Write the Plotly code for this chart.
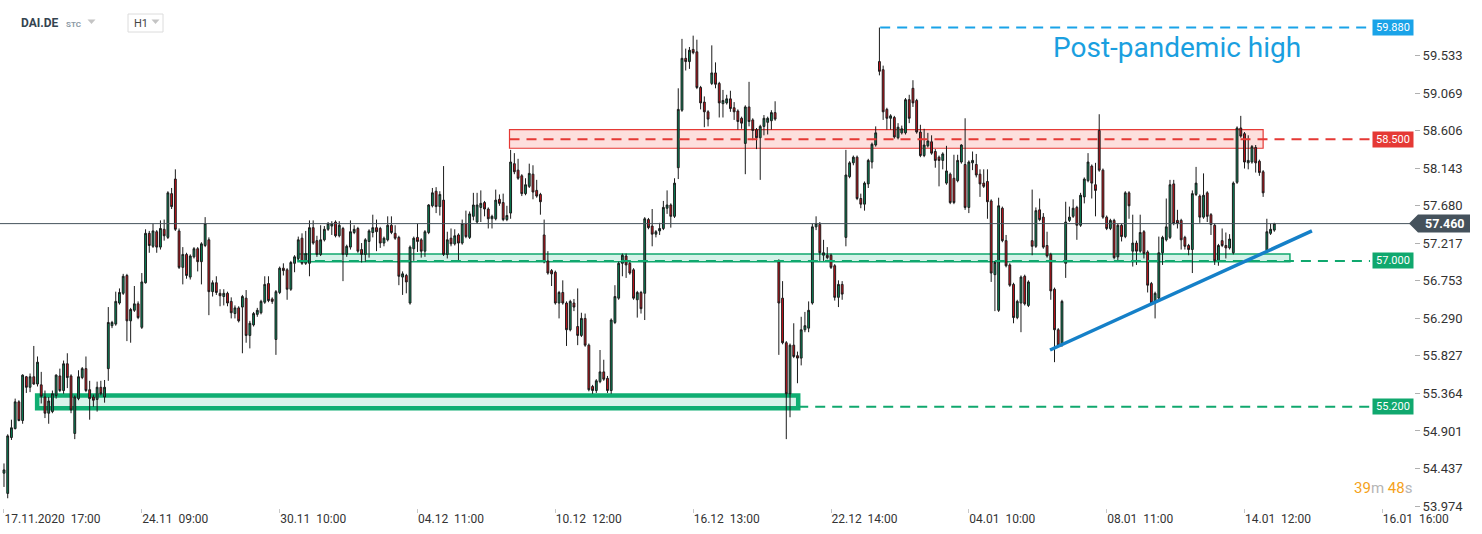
import plotly.graph_objects as go

# hourly candles, DAI.DE, 17.11.2020 17:00 -> 14.01.2021
OPEN = [
    54.38, 54.13, 54.82, 54.93, 55.26, 55.03, 55.57, 55.44, 55.57, 55.48,
    55.47, 55.32, 55.12, 55.14, 55.34, 55.58, 55.40, 55.73, 55.58, 54.87,
    55.30, 55.56, 55.67, 55.41, 55.32, 55.29, 55.44, 55.32, 55.67, 56.20,
    56.22, 56.48, 56.60, 56.82, 56.26, 56.39, 56.47, 56.18, 56.73, 57.34,
    57.18, 57.36, 57.17, 57.39, 57.29, 57.83, 58.01, 57.37, 56.92, 57.08,
    56.80, 57.05, 57.15, 56.99, 57.19, 57.26, 56.62, 56.73, 56.60, 56.56,
    56.60, 56.50, 56.35, 56.42, 56.43, 56.54, 56.08, 56.21, 56.34, 56.36,
    56.49, 56.72, 56.53, 56.03, 56.61, 56.91, 56.89, 56.65, 56.97, 57.03,
    57.28, 56.97, 56.97, 57.41, 57.25, 57.08, 57.26, 57.39, 57.43, 57.48,
    57.31, 57.40, 57.08, 57.17, 57.35, 57.40, 57.14, 57.08, 57.24, 57.35,
    57.41, 57.40, 57.22, 57.26, 57.44, 57.34, 57.29, 56.80, 56.82, 56.48,
    57.15, 57.29, 57.26, 57.12, 57.35, 57.68, 57.86, 57.67, 57.75, 57.08,
    57.28, 57.21, 57.32, 57.22, 57.46, 57.29, 57.55, 57.48, 57.66, 57.72,
    57.64, 57.52, 57.52, 57.76, 57.72, 57.51, 57.59, 58.20, 58.12, 58.05,
    57.83, 57.92, 58.07, 57.87, 57.82, 57.32, 57.00, 56.88, 56.86, 56.48,
    56.61, 56.48, 56.15, 56.48, 56.19, 56.08, 56.29, 55.96, 55.45, 55.40,
    55.51, 55.63, 55.55, 55.40, 56.24, 56.54, 56.97, 57.06, 56.97, 56.89,
    56.52, 56.61, 56.60, 57.51, 57.43, 57.33, 57.37, 57.40, 57.65, 57.69,
    57.55, 58.15, 58.86, 59.50, 59.46, 59.61, 59.58, 59.14, 58.96, 58.84,
    59.19, 59.32, 59.19, 58.94, 58.95, 59.00, 58.89, 58.85, 58.76, 58.45,
    58.90, 58.74, 58.62, 58.52, 58.66, 58.71, 58.73, 58.83, 57.00, 56.54,
    55.99, 55.36, 55.96, 55.83, 55.80, 56.15, 56.17, 56.48, 57.42, 57.45,
    57.07, 57.07, 57.07, 56.94, 56.55, 56.71, 57.29, 58.04, 58.21, 58.28,
    57.77, 57.70, 57.95, 58.22, 58.43, 59.46, 59.36, 58.87, 58.76, 58.77,
    58.52, 58.58, 58.58, 58.99, 59.13, 58.98, 58.59, 58.30, 58.42, 58.47,
    58.35, 58.28, 58.24, 57.96, 58.07, 58.02, 57.99, 58.22, 58.19, 57.66,
    58.21, 58.19, 58.07, 57.96, 57.98, 57.74, 56.83, 56.39, 57.65, 57.25,
    56.95, 56.71, 56.30, 56.48, 56.81, 56.45, 57.25, 57.18, 57.63, 57.54,
    57.19, 57.08, 56.65, 56.15, 55.96, 56.97, 57.50, 57.55, 57.66, 57.44,
    57.79, 57.99, 58.17, 57.94, 58.61, 58.12, 57.54, 57.40, 57.50, 57.05,
    57.44, 57.30, 57.84, 57.12, 57.22, 57.12, 57.36, 57.11, 56.72, 56.48,
    56.54, 57.10, 57.26, 57.29, 57.95, 57.50, 57.50, 57.29, 57.19, 57.14,
    57.82, 57.80, 57.54, 57.84, 57.57, 57.44, 57.00, 57.25, 57.19, 57.16,
    57.10, 57.97, 58.64, 58.57, 58.21, 58.22, 58.40, 58.23, 58.10, 57.13,
    57.34, 57.38,
]
HIGH = [
    54.50, 54.86, 55.04, 55.30, 55.28, 55.60, 55.58, 55.61, 55.95, 55.82,
    55.63, 55.40, 55.32, 55.40, 55.60, 55.67, 55.77, 55.86, 55.60, 55.34,
    55.65, 55.69, 55.82, 55.52, 55.35, 55.51, 55.52, 55.53, 56.43, 56.26,
    56.62, 56.66, 56.84, 56.84, 56.42, 56.69, 56.50, 56.85, 57.39, 57.37,
    57.46, 57.38, 57.50, 57.51, 57.86, 57.90, 58.13, 57.40, 57.17, 57.10,
    57.08, 57.17, 57.17, 57.23, 57.54, 57.29, 56.76, 56.81, 56.65, 56.65,
    56.62, 56.55, 56.45, 56.44, 56.58, 56.64, 56.26, 56.37, 56.42, 56.52,
    56.81, 56.81, 56.55, 56.64, 56.93, 56.97, 56.91, 57.00, 57.07, 57.30,
    57.34, 57.37, 57.50, 57.50, 57.31, 57.44, 57.43, 57.48, 57.49, 57.50,
    57.49, 57.42, 57.20, 57.50, 57.44, 57.42, 57.22, 57.28, 57.39, 57.57,
    57.51, 57.42, 57.30, 57.55, 57.55, 57.44, 57.31, 56.87, 56.84, 57.19,
    57.30, 57.46, 57.28, 57.38, 57.70, 57.90, 57.91, 57.86, 58.17, 57.36,
    57.40, 57.39, 57.34, 57.51, 57.62, 57.61, 57.84, 57.84, 57.87, 57.74,
    57.66, 57.57, 57.88, 57.82, 57.83, 57.68, 58.37, 58.33, 58.26, 58.07,
    58.02, 58.20, 58.18, 58.00, 57.84, 57.51, 57.12, 56.90, 56.88, 56.63,
    56.76, 56.50, 56.52, 56.53, 56.66, 56.36, 56.35, 55.98, 55.47, 55.54,
    55.90, 55.78, 55.58, 56.29, 56.70, 56.99, 57.09, 57.09, 56.99, 56.91,
    56.63, 56.63, 57.54, 57.53, 57.64, 57.38, 57.47, 57.74, 57.87, 57.71,
    58.02, 59.13, 59.74, 59.62, 59.64, 59.78, 59.73, 59.16, 59.03, 58.86,
    59.66, 59.45, 59.21, 59.11, 59.05, 59.10, 58.96, 58.87, 58.78, 58.92,
    59.21, 58.76, 58.64, 58.68, 58.80, 58.78, 58.86, 58.97, 57.02, 56.75,
    56.01, 55.98, 56.23, 55.88, 56.31, 56.37, 56.50, 57.46, 57.55, 57.48,
    57.26, 57.17, 57.09, 56.96, 56.76, 56.75, 58.37, 58.23, 58.30, 58.30,
    57.83, 57.98, 58.26, 58.46, 58.66, 59.88, 59.41, 58.89, 58.81, 58.79,
    58.70, 58.67, 59.01, 59.05, 59.23, 59.00, 58.68, 58.63, 58.58, 58.55,
    58.38, 58.30, 58.34, 58.42, 58.09, 58.31, 58.31, 58.44, 58.76, 58.24,
    58.35, 58.32, 58.13, 58.13, 58.13, 57.76, 57.00, 57.78, 57.67, 57.32,
    56.97, 56.73, 56.52, 56.82, 56.83, 56.76, 57.88, 57.66, 57.77, 57.59,
    57.36, 57.10, 56.67, 56.17, 56.52, 57.73, 57.67, 57.76, 57.68, 57.84,
    58.03, 58.33, 58.19, 58.21, 58.81, 58.14, 57.56, 57.52, 57.52, 57.46,
    57.46, 57.86, 57.86, 57.57, 57.25, 57.57, 57.38, 57.13, 56.74, 56.62,
    57.30, 57.31, 57.77, 58.00, 58.00, 57.63, 57.52, 57.31, 57.21, 57.87,
    58.16, 57.82, 58.08, 57.86, 57.59, 57.46, 57.21, 57.40, 57.35, 57.33,
    57.98, 58.66, 58.79, 58.59, 58.55, 58.43, 58.43, 58.25, 58.12, 57.52,
    57.46, 57.47,
]
LOW = [
    54.21, 54.07, 54.79, 54.92, 55.02, 54.99, 55.37, 55.38, 55.47, 55.45,
    55.24, 55.06, 54.99, 55.12, 55.30, 55.38, 55.36, 55.43, 55.12, 54.80,
    55.28, 55.54, 55.38, 55.04, 55.20, 55.14, 55.34, 55.25, 55.52, 56.17,
    56.20, 56.46, 56.58, 56.01, 55.99, 56.37, 56.28, 56.16, 56.72, 57.10,
    57.16, 57.10, 57.14, 57.25, 57.27, 57.64, 57.37, 56.90, 56.71, 56.78,
    56.77, 57.03, 56.87, 56.71, 57.17, 56.33, 56.56, 56.58, 56.44, 56.45,
    56.44, 56.29, 56.29, 56.24, 55.86, 55.99, 55.92, 56.19, 56.31, 56.34,
    56.47, 56.49, 56.47, 55.84, 56.59, 56.82, 56.52, 56.63, 56.86, 57.01,
    56.95, 56.95, 56.81, 57.20, 57.05, 57.06, 57.24, 57.37, 57.32, 57.29,
    57.29, 56.75, 57.05, 57.14, 57.33, 57.10, 56.98, 56.99, 57.04, 57.29,
    57.12, 57.16, 57.18, 57.24, 57.33, 57.26, 56.70, 56.58, 56.60, 56.46,
    57.00, 57.11, 57.04, 57.05, 57.33, 57.66, 57.59, 57.56, 57.06, 57.03,
    57.18, 57.19, 57.00, 57.20, 57.28, 57.27, 57.50, 57.46, 57.48, 57.55,
    57.40, 57.40, 57.50, 57.68, 57.49, 57.49, 57.52, 58.07, 58.00, 57.80,
    57.81, 57.90, 57.76, 57.78, 57.57, 56.97, 56.83, 56.69, 56.46, 56.29,
    56.46, 55.95, 56.13, 56.38, 55.96, 56.06, 55.94, 55.39, 55.36, 55.37,
    55.49, 55.52, 55.37, 55.36, 56.22, 56.52, 56.81, 56.79, 56.83, 56.52,
    56.30, 56.35, 56.27, 57.39, 57.18, 57.29, 57.32, 57.38, 57.58, 57.41,
    57.53, 58.01, 58.84, 59.35, 59.37, 59.55, 59.12, 58.87, 58.65, 58.66,
    59.17, 59.13, 58.77, 58.77, 58.93, 58.84, 58.74, 58.62, 58.63, 58.07,
    58.66, 58.49, 58.38, 58.00, 58.55, 58.56, 58.62, 58.73, 55.84, 55.97,
    54.80, 55.07, 55.80, 55.49, 55.71, 56.12, 56.12, 56.46, 57.38, 57.00,
    57.00, 57.02, 56.90, 56.51, 56.43, 56.52, 57.18, 58.02, 58.18, 57.75,
    57.65, 57.62, 57.90, 58.14, 58.41, 59.29, 58.74, 58.62, 58.62, 58.51,
    58.50, 58.56, 58.56, 58.70, 58.90, 58.57, 58.28, 58.28, 58.40, 58.31,
    58.15, 57.92, 58.13, 57.94, 57.70, 57.70, 57.97, 58.20, 57.63, 57.59,
    58.12, 58.03, 57.79, 57.90, 57.52, 56.74, 56.38, 56.37, 57.23, 56.92,
    56.68, 56.23, 56.28, 56.12, 56.45, 56.43, 57.07, 57.16, 57.49, 57.15,
    57.04, 56.52, 55.75, 55.94, 55.94, 56.79, 57.48, 57.53, 57.26, 57.42,
    57.71, 57.97, 57.77, 57.55, 58.10, 57.52, 57.38, 57.38, 57.02, 56.99,
    57.24, 57.28, 57.52, 56.93, 56.95, 57.10, 57.03, 56.61, 56.46, 56.29,
    56.52, 56.95, 57.24, 57.27, 57.44, 57.40, 57.14, 57.14, 57.07, 56.85,
    57.80, 57.47, 57.52, 57.48, 57.32, 56.95, 56.94, 57.17, 57.03, 57.14,
    57.08, 57.95, 58.52, 58.14, 58.13, 58.20, 58.09, 58.05, 57.79, 57.11,
    57.32, 57.36,
]
CLOSE = [
    54.42, 54.84, 54.94, 55.26, 55.03, 55.59, 55.44, 55.57, 55.48, 55.75,
    55.33, 55.12, 55.27, 55.36, 55.59, 55.40, 55.73, 55.56, 55.16, 55.32,
    55.57, 55.67, 55.40, 55.30, 55.28, 55.44, 55.36, 55.44, 56.24, 56.24,
    56.50, 56.61, 56.81, 56.26, 56.40, 56.47, 56.30, 56.74, 57.34, 57.19,
    57.37, 57.17, 57.40, 57.31, 57.84, 57.67, 57.39, 56.92, 57.08, 56.82,
    57.06, 57.15, 56.99, 57.21, 57.46, 56.62, 56.73, 56.61, 56.57, 56.60,
    56.48, 56.36, 56.42, 56.26, 56.56, 56.08, 56.23, 56.35, 56.39, 56.50,
    56.71, 56.51, 56.50, 56.62, 56.91, 56.88, 56.65, 56.98, 57.05, 57.26,
    56.97, 57.09, 57.41, 57.22, 57.08, 57.26, 57.39, 57.46, 57.46, 57.31,
    57.44, 57.08, 57.18, 57.36, 57.39, 57.12, 57.08, 57.26, 57.37, 57.41,
    57.36, 57.22, 57.28, 57.44, 57.35, 57.28, 56.81, 56.84, 56.74, 57.17,
    57.28, 57.24, 57.12, 57.36, 57.69, 57.84, 57.67, 57.82, 57.08, 57.26,
    57.21, 57.31, 57.22, 57.46, 57.30, 57.58, 57.69, 57.69, 57.71, 57.64,
    57.52, 57.55, 57.75, 57.71, 57.51, 57.56, 58.22, 58.10, 58.02, 57.83,
    57.94, 58.08, 57.85, 57.80, 57.73, 56.99, 56.85, 56.84, 56.48, 56.61,
    56.48, 56.15, 56.50, 56.43, 56.08, 56.29, 55.96, 55.41, 55.40, 55.52,
    55.63, 55.54, 55.40, 56.27, 56.56, 56.97, 57.07, 56.95, 56.85, 56.54,
    56.61, 56.41, 57.52, 57.41, 57.33, 57.36, 57.40, 57.66, 57.69, 57.55,
    57.96, 58.87, 59.50, 59.46, 59.60, 59.57, 59.14, 58.95, 58.84, 58.75,
    59.32, 59.18, 58.95, 58.98, 59.00, 58.88, 58.84, 58.72, 58.70, 58.90,
    58.72, 58.61, 58.52, 58.66, 58.76, 58.76, 58.83, 58.75, 56.48, 55.99,
    55.36, 55.96, 55.82, 55.80, 56.15, 56.20, 56.39, 57.42, 57.46, 57.10,
    57.10, 57.04, 56.92, 56.55, 56.71, 56.59, 58.06, 58.21, 58.28, 57.77,
    57.70, 57.96, 58.24, 58.44, 58.58, 59.34, 58.84, 58.76, 58.79, 58.53,
    58.65, 58.63, 58.99, 58.76, 58.95, 58.59, 58.30, 58.43, 58.48, 58.33,
    58.24, 58.24, 58.32, 58.11, 57.72, 57.72, 58.24, 58.43, 57.66, 58.22,
    58.24, 58.06, 57.95, 57.92, 57.73, 56.85, 56.98, 57.68, 57.25, 56.94,
    56.70, 56.30, 56.50, 56.80, 56.47, 56.74, 57.18, 57.62, 57.51, 57.17,
    57.06, 56.63, 56.15, 55.96, 56.50, 57.48, 57.54, 57.65, 57.44, 57.81,
    58.01, 58.22, 57.96, 57.87, 58.12, 57.54, 57.40, 57.50, 57.04, 57.44,
    57.30, 57.84, 57.68, 57.22, 57.12, 57.35, 57.09, 56.70, 56.48, 56.60,
    57.10, 57.29, 57.42, 57.94, 57.46, 57.46, 57.26, 57.18, 57.14, 57.83,
    57.96, 57.54, 57.81, 57.55, 57.45, 57.00, 57.19, 57.19, 57.16, 57.27,
    57.96, 58.64, 58.54, 58.22, 58.24, 58.41, 58.21, 58.09, 57.84, 57.36,
    57.39, 57.46,
]

TICK_POS = [0, 37, 74, 111, 148, 185, 222, 259, 296, 333, 370]
TICK_TEXT = [
    "17.11.2020\u00a0\u00a017:00", "24.11\u00a0\u00a009:00", "30.11\u00a0\u00a010:00",
    "04.12\u00a0\u00a011:00", "10.12\u00a0\u00a012:00", "16.12\u00a0\u00a013:00",
    "22.12\u00a0\u00a014:00", "04.01\u00a0\u00a010:00", "08.01\u00a0\u00a011:00",
    "14.01\u00a0\u00a012:00", "16.01\u00a0\u00a016:00",
]
PRICE_TICKS = [53.974, 54.437, 54.901, 55.364, 55.827, 56.290, 56.753,
               57.217, 57.680, 58.143, 58.606, 59.069, 59.533]

LAST = 57.460
LEVELS = [  # price, colour, first candle of the dashed line
    (59.880, "#1aa3e8", 235.2),
    (58.500, "#e53935", 135.7),
    (57.000, "#10a86e", 78.9),
    (55.200, "#10a86e", 213.2),
]
RED_ZONE = (135.7, 338.0, 58.39, 58.62)
SUPPORT_ZONE = (78.9, 345.2, 56.99, 57.085)
LOW_ZONE = (8.9, 213.2, 55.18, 55.34)
TREND = [(280.8, 55.90), (351.1, 57.37)]

X_RANGE = [-1.07, 378.5]
Y_RANGE = [53.95, 60.22]
LINE_END = 366.7

W, H = 1482, 534
PLOT_W, PLOT_H = 1414, 508
FONT = "Roboto, Arial, sans-serif"


def px(x):
    return x / PLOT_W


def py(y):
    return 1 - y / PLOT_H


def label(x, y, text, size, color, yref="paper", xanchor="left", bold=False, **kw):
    return dict(xref="paper", yref=yref, x=x, y=y, xanchor=xanchor, yanchor="middle",
                text=f"<b>{text}</b>" if bold else text, showarrow=False,
                font=dict(size=size, color=color, family=FONT), **kw)


fig = go.Figure()
fig.add_trace(go.Candlestick(
    x=list(range(len(OPEN))), open=OPEN, high=HIGH, low=LOW, close=CLOSE,
    increasing=dict(fillcolor="#07895a", line=dict(color="#1b1b1b", width=1)),
    decreasing=dict(fillcolor="#d3121b", line=dict(color="#1b1b1b", width=1)),
    whiskerwidth=0, hoverinfo="skip",
))

shapes = []
# zones
x0, x1, y0, y1 = RED_ZONE
shapes.append(dict(type="rect", x0=x0, x1=x1, y0=y0, y1=y1, layer="below",
                   fillcolor="rgba(244,67,54,0.17)", line=dict(color="#e53935", width=1.2)))
x0, x1, y0, y1 = SUPPORT_ZONE
shapes.append(dict(type="rect", x0=x0, x1=x1, y0=y0, y1=y1, layer="below",
                   fillcolor="rgba(0,176,116,0.17)", line=dict(color="#10a86e", width=1.5)))
x0, x1, y0, y1 = LOW_ZONE
shapes.append(dict(type="rect", x0=x0, x1=x1, y0=y0, y1=y1, layer="below",
                   fillcolor="rgba(0,176,116,0.15)", line=dict(color="#0fae72", width=4.5)))

# level lines
for price, color, start in LEVELS:
    shapes.append(dict(type="line", x0=start, x1=LINE_END, y0=price, y1=price,
                       line=dict(color=color, width=2, dash="10px,7px")))

# last price line
shapes.append(dict(type="line", xref="paper", x0=0, x1=px(1410), y0=LAST, y1=LAST,
                   line=dict(color="#45525c", width=1)))

# trend line
(tx0, ty0), (tx1, ty1) = TREND
shapes.append(dict(type="line", x0=tx0, x1=tx1, y0=ty0, y1=ty1,
                   line=dict(color="#1580c8", width=3.5)))

# last price marker
d = 9 / 81
shapes.append(dict(
    type="path", xref="paper", yref="y", fillcolor="#45525c", line=dict(width=0),
    path=(f"M {px(1409)},{LAST} L {px(1418)},{LAST + d} L {px(1470)},{LAST + d} "
          f"L {px(1470)},{LAST - d} L {px(1418)},{LAST - d} Z"),
))

# header widgets
shapes.append(dict(type="rect", xref="paper", yref="paper",
                   x0=px(128), x1=px(163), y0=py(32), y1=py(14),
                   line=dict(color="#dcdcdc", width=1), fillcolor="white"))
for cx in (91.5, 155.5):
    shapes.append(dict(type="path", xref="paper", yref="paper", fillcolor="#c4c4c4",
                       line=dict(width=0),
                       path=f"M {px(cx - 4)},{py(19.5)} L {px(cx + 4)},{py(19.5)} "
                            f"L {px(cx)},{py(24)} Z"))

annotations = []
for price, color, _ in LEVELS:
    annotations.append(label(px(1392.5), price, f"{price:.3f}", 11, "white", yref="y",
                             xanchor="center", bgcolor=color, width=37, height=12,
                             borderpad=1.5))
annotations.append(label(px(1444), LAST, f"{LAST:.3f}", 12.5, "white", yref="y",
                         xanchor="center", bold=True))
annotations.append(label(px(1051), py(47), "Post-pandemic high", 28, "#1a9fe0"))
annotations.append(label(
    px(1414), py(488),
    "<span style='color:#f5a21b'>39</span><span style='color:#b5b5b5'>m</span> "
    "<span style='color:#f5a21b'>48</span><span style='color:#b5b5b5'>s</span>",
    15, "#b5b5b5", xanchor="right"))
annotations.append(label(px(19), py(23), "DAI.DE", 12, "#34434f", bold=True))
annotations.append(label(px(64), py(24), "STC", 8, "#8c9aa6", bold=True))
annotations.append(label(px(132), py(23), "H1", 11, "#444"))

fig.update_layout(
    width=W, height=H,
    margin=dict(l=0, r=W - PLOT_W, t=0, b=H - PLOT_H),
    paper_bgcolor="white", plot_bgcolor="white",
    showlegend=False, shapes=shapes, annotations=annotations,
    font=dict(family=FONT, color="#333"),
)
fig.update_xaxes(
    range=X_RANGE, rangeslider=dict(visible=False), showgrid=False, zeroline=False,
    tickvals=TICK_POS, ticktext=TICK_TEXT, ticks="outside", ticklen=4,
    tickcolor="#c8c8c8", ticklabelposition="outside right",
    tickfont=dict(size=12, color="#333", family=FONT), showline=False,
)
fig.update_yaxes(
    range=Y_RANGE, side="right", showgrid=False, zeroline=False,
    tickvals=PRICE_TICKS, tickformat=".3f", ticks="outside", ticklen=5,
    tickcolor="#b0b0b0", tickfont=dict(size=13, color="#333", family=FONT),
    showline=False,
)

fig.write_html("out.html", config={"displayModeBar": False},
               post_script="document.body.style.margin = '0px';")
